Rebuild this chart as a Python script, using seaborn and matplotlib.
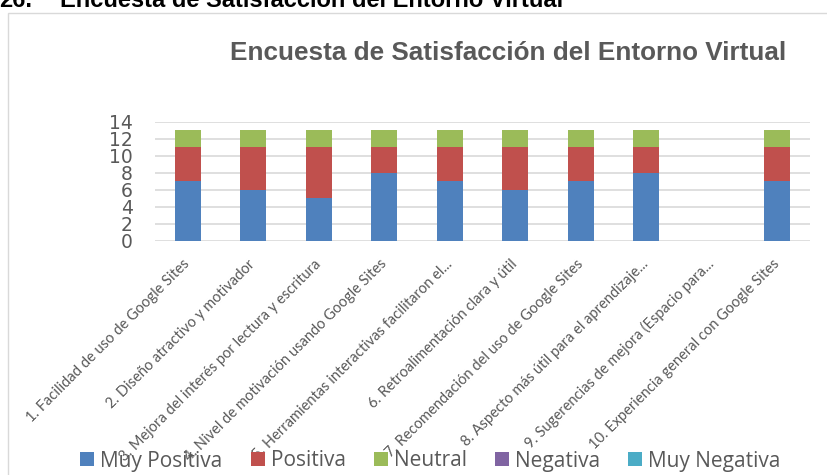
import numpy as np
import pandas as pd
import matplotlib
matplotlib.use("Agg")
import matplotlib.pyplot as plt
from matplotlib.patches import Patch, Rectangle
import seaborn as sns

# survey items (x axis)
questions = [
    "1. Facilidad de uso de Google Sites",
    "2. Diseño atractivo y motivador",
    "3. Mejora del interés por lectura y escritura",
    "4. Nivel de motivación usando Google Sites",
    "5. Herramientas interactivas facilitaron el...",
    "6. Retroalimentación clara y útil",
    "7. Recomendación del uso de Google Sites",
    "8. Aspecto más útil para el aprendizaje...",
    "9. Sugerencias de mejora (Espacio para...",
    "10. Experiencia general con Google Sites",
]

series_names = ["Muy Positiva", "Positiva", "Neutral", "Negativa", "Muy Negativa"]
muy_positiva = [7, 6, 5, 8, 7, 6, 7, 8, 0, 7]
positiva = [4, 5, 6, 3, 4, 5, 4, 3, 0, 4]
neutral = [2, 2, 2, 2, 2, 2, 2, 2, 0, 2]
negativa = [0, 0, 0, 0, 0, 0, 0, 0, 0, 0]
muy_negativa = [0, 0, 0, 0, 0, 0, 0, 0, 0, 0]
y_ticks = [0, 2, 4, 6, 8, 10, 12, 14]

colors = ["#4F81BD", "#C0504D", "#9BBB59", "#8064A2", "#4BACC6"]
gray = "#595959"

sns.set_style("white")

df = pd.DataFrame({
    "pregunta": questions,
    "Muy Positiva": muy_positiva,
    "Positiva": positiva,
    "Neutral": neutral,
    "Negativa": negativa,
    "Muy Negativa": muy_negativa,
})
cum = df[series_names].cumsum(axis=1)

W, H = 827, 475
fig = plt.figure(figsize=(W / 100, H / 100), dpi=100)

# outer chart frame
fig.patches.append(Rectangle((7.5 / W, -0.02), 1.0, 1 - 13.5 / H + 0.02,
                             transform=fig.transFigure, fill=False,
                             edgecolor="#D9D9D9", lw=1.0))

ax = fig.add_axes([155 / W, 1 - 241 / H, (810 - 155) / W, (241 - 121.7) / H])

# stacked bars: draw cumulative tops from the highest layer down
for name, col in zip(series_names[::-1], colors[::-1]):
    heights = np.where(df[name] > 0, cum[name], 0)
    sns.barplot(x=df["pregunta"], y=heights, color=col, saturation=1,
                width=0.4, errorbar=None, ax=ax, edgecolor="none", zorder=3)

ax.set_ylim(0, 14)
ax.set_xlim(-0.5, len(questions) - 0.5)
ax.set_yticks(y_ticks)
ax.yaxis.grid(True, color="#D9D9D9", lw=1.2, zorder=0)
ax.set_axisbelow(True)
for s in ax.spines.values():
    s.set_visible(False)
ax.set_xlabel("")
ax.set_ylabel("")
ax.tick_params(axis="y", length=0, pad=16, labelsize=13.5, labelcolor=gray)
ax.tick_params(axis="x", length=0, pad=15)
ax.set_xticks(range(len(questions)))
ax.set_xticklabels(questions, rotation=45, ha="right", va="center",
                   rotation_mode="anchor", fontsize=10.5, color=gray,
                   family="Lato")

fig.text(508 / W, 1 - 60.5 / H, "Encuesta de Satisfacción del Entorno Virtual",
         ha="center", va="baseline", fontsize=18.8, fontweight="bold",
         color=gray, family="Liberation Sans")

# document caption, cut at the top edge
fig.text(32 / W, 1 - 7 / H, "26.", ha="right", va="baseline", fontsize=17,
         fontweight="bold", color="black", family="Liberation Sans")
fig.text(60 / W, 1 - 7 / H, "Encuesta de Satisfacción del Entorno Virtual",
         ha="left", va="baseline", fontsize=17, fontweight="bold",
         color="black", family="Liberation Sans")

handles = [Patch(facecolor=c, edgecolor="none") for c in colors]
leg = fig.legend(handles, series_names, loc="center",
                 bbox_to_anchor=(430.5 / W, 1 - 461 / H), ncol=5, frameon=False,
                 handlelength=0.67, handleheight=0.67, handletextpad=0.29,
                 columnspacing=1.35, prop={"family": "Open Sans", "size": 15})
for t in leg.get_texts():
    t.set_color(gray)

fig.savefig("out.png", dpi=100)
